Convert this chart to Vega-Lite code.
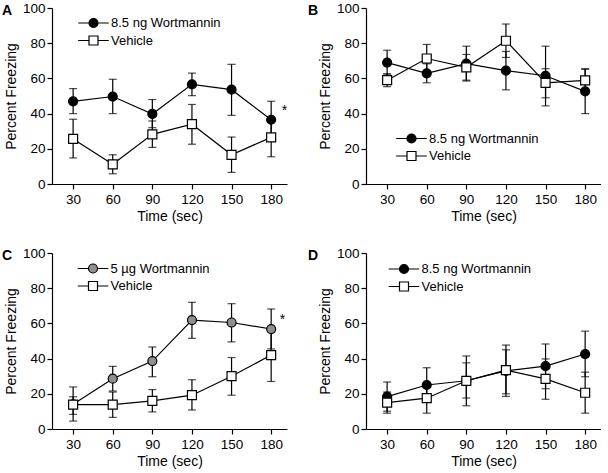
{
  "$schema": "https://vega.github.io/schema/vega-lite/v6.json",
  "background": "white",
  "padding": {"left": 2, "top": 1, "right": 0, "bottom": 0},
  "columns": 2,
  "spacing": {"row": 22, "column": 20},
  "resolve": {"scale": {"fill": "independent", "shape": "independent"}, "legend": {"fill": "independent", "shape": "independent"}},
  "datasets": {
    "a": [
      {"t": 30, "series": "8.5 ng Wortmannin", "mean": 47, "lo": 40, "hi": 54.2},
      {"t": 60, "series": "8.5 ng Wortmannin", "mean": 49.7, "lo": 40, "hi": 59.5},
      {"t": 90, "series": "8.5 ng Wortmannin", "mean": 39.8, "lo": 32, "hi": 48},
      {"t": 120, "series": "8.5 ng Wortmannin", "mean": 56.6, "lo": 50.2, "hi": 63},
      {"t": 150, "series": "8.5 ng Wortmannin", "mean": 53.6, "lo": 39, "hi": 68},
      {"t": 180, "series": "8.5 ng Wortmannin", "mean": 36.5, "lo": 27, "hi": 47},
      {"t": 30, "series": "Vehicle", "mean": 25.6, "lo": 14.8, "hi": 36.8},
      {"t": 60, "series": "Vehicle", "mean": 11.2, "lo": 5.8, "hi": 16.6},
      {"t": 90, "series": "Vehicle", "mean": 28.2, "lo": 20.8, "hi": 35.8},
      {"t": 120, "series": "Vehicle", "mean": 34, "lo": 22.6, "hi": 45.2},
      {"t": 150, "series": "Vehicle", "mean": 16.6, "lo": 6.6, "hi": 26.7},
      {"t": 180, "series": "Vehicle", "mean": 26.5, "lo": 15.5, "hi": 37.5}
    ],
    "b": [
      {"t": 30, "series": "8.5 ng Wortmannin", "mean": 69, "lo": 62, "hi": 76},
      {"t": 60, "series": "8.5 ng Wortmannin", "mean": 62.9, "lo": 57.5, "hi": 68.3},
      {"t": 90, "series": "8.5 ng Wortmannin", "mean": 68.4, "lo": 58.5, "hi": 78.3},
      {"t": 120, "series": "8.5 ng Wortmannin", "mean": 64.4, "lo": 53.5, "hi": 75.3},
      {"t": 150, "series": "8.5 ng Wortmannin", "mean": 61.5, "lo": 44.4, "hi": 78.3},
      {"t": 180, "series": "8.5 ng Wortmannin", "mean": 52.6, "lo": 40, "hi": 65.2},
      {"t": 30, "series": "Vehicle", "mean": 59, "lo": 55.3, "hi": 62.7},
      {"t": 60, "series": "Vehicle", "mean": 71.3, "lo": 63.3, "hi": 79.3},
      {"t": 90, "series": "Vehicle", "mean": 66.3, "lo": 59, "hi": 73.6},
      {"t": 120, "series": "Vehicle", "mean": 81.4, "lo": 71.9, "hi": 90.9},
      {"t": 150, "series": "Vehicle", "mean": 57.5, "lo": 49, "hi": 65.5},
      {"t": 180, "series": "Vehicle", "mean": 58.9, "lo": 52.3, "hi": 65.5}
    ],
    "c": [
      {"t": 30, "series": "5 µg Wortmannin", "mean": 14, "lo": 4.5, "hi": 23.9},
      {"t": 60, "series": "5 µg Wortmannin", "mean": 28.6, "lo": 21.6, "hi": 35.6},
      {"t": 90, "series": "5 µg Wortmannin", "mean": 38.6, "lo": 29.7, "hi": 46.6},
      {"t": 120, "series": "5 µg Wortmannin", "mean": 61.9, "lo": 51.5, "hi": 72},
      {"t": 150, "series": "5 µg Wortmannin", "mean": 60.5, "lo": 49.5, "hi": 71.2},
      {"t": 180, "series": "5 µg Wortmannin", "mean": 56.8, "lo": 45.5, "hi": 68.2},
      {"t": 30, "series": "Vehicle", "mean": 13.8, "lo": 8.3, "hi": 18.3},
      {"t": 60, "series": "Vehicle", "mean": 13.8, "lo": 6.6, "hi": 21},
      {"t": 90, "series": "Vehicle", "mean": 16, "lo": 9.7, "hi": 22.4},
      {"t": 120, "series": "Vehicle", "mean": 19.2, "lo": 10.8, "hi": 28},
      {"t": 150, "series": "Vehicle", "mean": 30, "lo": 19.2, "hi": 40.6},
      {"t": 180, "series": "Vehicle", "mean": 42, "lo": 27, "hi": 57}
    ],
    "d": [
      {"t": 30, "series": "8.5 ng Wortmannin", "mean": 18.4, "lo": 10.1, "hi": 26.7},
      {"t": 60, "series": "8.5 ng Wortmannin", "mean": 25, "lo": 15.2, "hi": 34.8},
      {"t": 90, "series": "8.5 ng Wortmannin", "mean": 27.4, "lo": 13.2, "hi": 41.5},
      {"t": 120, "series": "8.5 ng Wortmannin", "mean": 33, "lo": 18.5, "hi": 47.7},
      {"t": 150, "series": "8.5 ng Wortmannin", "mean": 35.7, "lo": 22.9, "hi": 48.3},
      {"t": 180, "series": "8.5 ng Wortmannin", "mean": 42.6, "lo": 29.7, "hi": 55.6},
      {"t": 30, "series": "Vehicle", "mean": 15, "lo": 9, "hi": 21},
      {"t": 60, "series": "Vehicle", "mean": 17.5, "lo": 9, "hi": 26},
      {"t": 90, "series": "Vehicle", "mean": 27.4, "lo": 17.6, "hi": 37.6},
      {"t": 120, "series": "Vehicle", "mean": 33.4, "lo": 20, "hi": 45},
      {"t": 150, "series": "Vehicle", "mean": 28.5, "lo": 16.9, "hi": 39.8},
      {"t": 180, "series": "Vehicle", "mean": 20.6, "lo": 9, "hi": 32.3}
    ]
  },
  "concat": [
    {
      "title": {"text": "A", "dx": -50, "dy": 21},
      "width": 235, "height": 176,
      "layer": [
        {
          "data": {"name": "a"},
          "encoding": {
            "x": {"field": "t", "type": "quantitative", "scale": {"domain": [14, 192], "nice": false, "zero": false}, "axis": {"values": [30, 60, 90, 120, 150, 180]}, "title": "Time (sec)"},
            "y": {"field": "mean", "type": "quantitative", "scale": {"domain": [0, 100], "nice": false}, "axis": {"values": [0, 20, 40, 60, 80, 100]}, "title": "Percent Freezing"}
          },
          "layer": [
            {"mark": {"type": "line", "color": "black", "strokeWidth": 1.2}, "encoding": {"detail": {"field": "series"}}},
            {"mark": {"type": "rule", "color": "black", "strokeWidth": 1.2}, "encoding": {"y": {"field": "lo", "type": "quantitative"}, "y2": {"field": "hi"}}},
            {"mark": {"type": "tick", "color": "black", "thickness": 1.2, "size": 8, "orient": "horizontal"}, "encoding": {"y": {"field": "lo", "type": "quantitative"}}},
            {"mark": {"type": "tick", "color": "black", "thickness": 1.2, "size": 8, "orient": "horizontal"}, "encoding": {"y": {"field": "hi", "type": "quantitative"}}},
            {"mark": {"type": "point", "filled": true, "stroke": "black", "strokeWidth": 1.2, "size": 81, "opacity": 1},
             "encoding": {
               "shape": {"field": "series", "type": "nominal", "scale": {"domain": ["Vehicle", "8.5 ng Wortmannin"], "range": ["square", "circle"]}, "legend": null},
               "fill": {"field": "series", "type": "nominal", "scale": {"domain": ["8.5 ng Wortmannin", "Vehicle"], "range": ["black", "white"]},
                 "legend": {"title": null, "orient": "none", "legendX": 35, "legendY": 8.5,
                   "symbolType": {"expr": "datum.value === 'Vehicle' ? 'M-3.4,0H-1M1,0H3.4M-1,-1H1V1H-1Z' : 'M-3.4,0H-1M1,0H3.4M-1,0A1,1 0 1,1 1,0A1,1 0 1,1 -1,0Z'"}}}}}
          ]
        },
        {"data": {"values": [{}]}, "mark": {"type": "text", "text": "*", "fontSize": 14, "font": "Liberation Sans", "color": "black"},
         "encoding": {
           "x": {"datum": 190, "type": "quantitative", "scale": {"domain": [14, 192], "nice": false, "zero": false}, "axis": {"values": [30, 60, 90, 120, 150, 180]}, "title": "Time (sec)"},
           "y": {"datum": 41.5, "type": "quantitative", "scale": {"domain": [0, 100], "nice": false}, "axis": {"values": [0, 20, 40, 60, 80, 100]}, "title": "Percent Freezing"}}}
      ]
    },
    {
      "title": {"text": "B", "dx": -58, "dy": 21},
      "width": 235, "height": 176,
      "data": {"name": "b"},
      "encoding": {
        "x": {"field": "t", "type": "quantitative", "scale": {"domain": [14, 192], "nice": false, "zero": false}, "axis": {"values": [30, 60, 90, 120, 150, 180]}, "title": "Time (sec)"},
        "y": {"field": "mean", "type": "quantitative", "scale": {"domain": [0, 100], "nice": false}, "axis": {"values": [0, 20, 40, 60, 80, 100]}, "title": "Percent Freezing"}
      },
      "layer": [
        {"mark": {"type": "line", "color": "black", "strokeWidth": 1.2}, "encoding": {"detail": {"field": "series"}}},
        {"mark": {"type": "rule", "color": "black", "strokeWidth": 1.2}, "encoding": {"y": {"field": "lo", "type": "quantitative"}, "y2": {"field": "hi"}}},
        {"mark": {"type": "tick", "color": "black", "thickness": 1.2, "size": 8, "orient": "horizontal"}, "encoding": {"y": {"field": "lo", "type": "quantitative"}}},
        {"mark": {"type": "tick", "color": "black", "thickness": 1.2, "size": 8, "orient": "horizontal"}, "encoding": {"y": {"field": "hi", "type": "quantitative"}}},
        {"mark": {"type": "point", "filled": true, "stroke": "black", "strokeWidth": 1.2, "size": 81, "opacity": 1},
         "encoding": {
           "shape": {"field": "series", "type": "nominal", "scale": {"domain": ["Vehicle", "8.5 ng Wortmannin"], "range": ["square", "circle"]}, "legend": null},
           "fill": {"field": "series", "type": "nominal", "scale": {"domain": ["8.5 ng Wortmannin", "Vehicle"], "range": ["black", "white"]},
             "legend": {"title": null, "orient": "none", "legendX": 39, "legendY": 124,
               "symbolType": {"expr": "datum.value === 'Vehicle' ? 'M-3.4,0H-1M1,0H3.4M-1,-1H1V1H-1Z' : 'M-3.4,0H-1M1,0H3.4M-1,0A1,1 0 1,1 1,0A1,1 0 1,1 -1,0Z'"}}}}}
      ]
    },
    {
      "title": {"text": "C", "dx": -50, "dy": 21},
      "width": 235, "height": 176,
      "layer": [
        {
          "data": {"name": "c"},
          "encoding": {
            "x": {"field": "t", "type": "quantitative", "scale": {"domain": [14, 192], "nice": false, "zero": false}, "axis": {"values": [30, 60, 90, 120, 150, 180]}, "title": "Time (sec)"},
            "y": {"field": "mean", "type": "quantitative", "scale": {"domain": [0, 100], "nice": false}, "axis": {"values": [0, 20, 40, 60, 80, 100]}, "title": "Percent Freezing"}
          },
          "layer": [
            {"mark": {"type": "line", "color": "black", "strokeWidth": 1.2}, "encoding": {"detail": {"field": "series"}}},
            {"mark": {"type": "rule", "color": "black", "strokeWidth": 1.2}, "encoding": {"y": {"field": "lo", "type": "quantitative"}, "y2": {"field": "hi"}}},
            {"mark": {"type": "tick", "color": "black", "thickness": 1.2, "size": 8, "orient": "horizontal"}, "encoding": {"y": {"field": "lo", "type": "quantitative"}}},
            {"mark": {"type": "tick", "color": "black", "thickness": 1.2, "size": 8, "orient": "horizontal"}, "encoding": {"y": {"field": "hi", "type": "quantitative"}}},
            {"mark": {"type": "point", "filled": true, "stroke": "black", "strokeWidth": 1.2, "size": 81, "opacity": 1},
             "encoding": {
               "shape": {"field": "series", "type": "nominal", "scale": {"domain": ["Vehicle", "5 µg Wortmannin"], "range": ["square", "circle"]}, "legend": null},
               "fill": {"field": "series", "type": "nominal", "scale": {"domain": ["5 µg Wortmannin", "Vehicle"], "range": ["#8f8f8f", "white"]},
                 "legend": {"title": null, "orient": "none", "legendX": 34.5, "legendY": 9,
                   "symbolType": {"expr": "datum.value === 'Vehicle' ? 'M-3.4,0H-1M1,0H3.4M-1,-1H1V1H-1Z' : 'M-3.4,0H-1M1,0H3.4M-1,0A1,1 0 1,1 1,0A1,1 0 1,1 -1,0Z'"}}}}}
          ]
        },
        {"data": {"values": [{}]}, "mark": {"type": "text", "text": "*", "fontSize": 14, "font": "Liberation Sans", "color": "black"},
         "encoding": {
           "x": {"datum": 188.5, "type": "quantitative", "scale": {"domain": [14, 192], "nice": false, "zero": false}, "axis": {"values": [30, 60, 90, 120, 150, 180]}, "title": "Time (sec)"},
           "y": {"datum": 61.7, "type": "quantitative", "scale": {"domain": [0, 100], "nice": false}, "axis": {"values": [0, 20, 40, 60, 80, 100]}, "title": "Percent Freezing"}}}
      ]
    },
    {
      "title": {"text": "D", "dx": -58, "dy": 21},
      "width": 235, "height": 176,
      "data": {"name": "d"},
      "encoding": {
        "x": {"field": "t", "type": "quantitative", "scale": {"domain": [14, 192], "nice": false, "zero": false}, "axis": {"values": [30, 60, 90, 120, 150, 180]}, "title": "Time (sec)"},
        "y": {"field": "mean", "type": "quantitative", "scale": {"domain": [0, 100], "nice": false}, "axis": {"values": [0, 20, 40, 60, 80, 100]}, "title": "Percent Freezing"}
      },
      "layer": [
        {"mark": {"type": "line", "color": "black", "strokeWidth": 1.2}, "encoding": {"detail": {"field": "series"}}},
        {"mark": {"type": "rule", "color": "black", "strokeWidth": 1.2}, "encoding": {"y": {"field": "lo", "type": "quantitative"}, "y2": {"field": "hi"}}},
        {"mark": {"type": "tick", "color": "black", "thickness": 1.2, "size": 8, "orient": "horizontal"}, "encoding": {"y": {"field": "lo", "type": "quantitative"}}},
        {"mark": {"type": "tick", "color": "black", "thickness": 1.2, "size": 8, "orient": "horizontal"}, "encoding": {"y": {"field": "hi", "type": "quantitative"}}},
        {"mark": {"type": "point", "filled": true, "stroke": "black", "strokeWidth": 1.2, "size": 81, "opacity": 1},
         "encoding": {
           "shape": {"field": "series", "type": "nominal", "scale": {"domain": ["Vehicle", "8.5 ng Wortmannin"], "range": ["square", "circle"]}, "legend": null},
           "fill": {"field": "series", "type": "nominal", "scale": {"domain": ["8.5 ng Wortmannin", "Vehicle"], "range": ["black", "white"]},
             "legend": {"title": null, "orient": "none", "legendX": 31.5, "legendY": 9.5,
               "symbolType": {"expr": "datum.value === 'Vehicle' ? 'M-3.4,0H-1M1,0H3.4M-1,-1H1V1H-1Z' : 'M-3.4,0H-1M1,0H3.4M-1,0A1,1 0 1,1 1,0A1,1 0 1,1 -1,0Z'"}}}}}
      ]
    }
  ],
  "config": {
    "view": {"stroke": null},
    "font": "Liberation Sans",
    "title": {"anchor": "start", "frame": "group", "orient": "top", "fontSize": 14, "fontWeight": "bold", "font": "Liberation Sans", "baseline": "top", "offset": 0, "color": "black"},
    "axis": {"grid": false, "labelOverlap": false, "domainColor": "black", "domainWidth": 1.2, "tickColor": "black", "tickWidth": 1.2, "tickSize": 5, "labelColor": "black", "titleColor": "black", "labelFont": "Liberation Sans", "titleFont": "Liberation Sans", "labelFontSize": 13.5, "titleFontSize": 14, "titleFontWeight": "normal"},
    "axisX": {"labelPadding": 3, "titlePadding": 4},
    "axisY": {"labelPadding": 2, "titlePadding": 4},
    "legend": {"padding": 0, "labelFont": "Liberation Sans", "labelFontSize": 13, "labelColor": "black", "symbolSize": 81, "symbolStrokeColor": "black", "symbolStrokeWidth": 1.2, "rowPadding": 2.5, "labelOffset": 11}
  }
}
